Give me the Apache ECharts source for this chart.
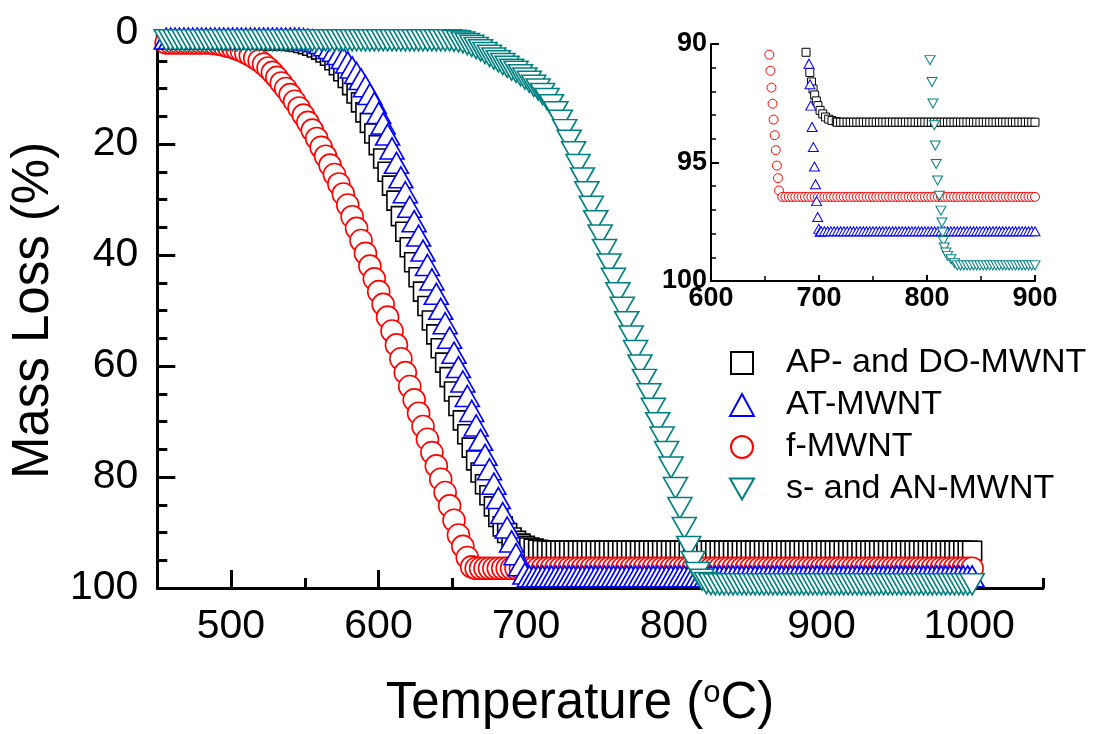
<!DOCTYPE html>
<html><head><meta charset="utf-8">
<script src="https://cdn.jsdelivr.net/npm/echarts@6/dist/echarts.min.js"></script>
<style>html,body{margin:0;padding:0;background:#fff}#c{width:1094px;height:734px}</style>
</head><body><div id="c"></div>
<script>
// ---------- DATA ----------
const temps = [
 456,459,462,465,468,471,474,477,480,483,
 486,489,492,495,498,501,504,507,510,513,
 516,519,522,525,528,531,534,537,540,543,
 546,549,552,555,558,561,564,567,570,573,
 576,579,582,585,588,591,594,597,600,603,
 606,609,612,615,618,621,624,627,630,633,
 636,639,642,645,648,651,654,657,660,663,
 666,669,672,675,678,681,684,687,690,693,
 696,699,702,705,708,711,714,717,720,723,
 726,729,732,735,738,741,744,747,750,753,
 756,759,762,765,768,771,774,777,780,783,
 786,789,792,795,798,801,804,807,810,813,
 816,819,822,825,828,831,834,837,840,843,
 846,849,852,855,858,861,864,867,870,873,
 876,879,882,885,888,891,894,897,900,903,
 906,909,912,915,918,921,924,927,930,933,
 936,939,942,945,948,951,954,957,960,963,
 966,969,972,975,978,981,984,987,990,993,
 996,999,1002
];
// AP- and DO-MWNT
const apDo = [
 1.3,1.3,1.3,1.3,1.3,1.3,1.3,1.3,1.3,1.3,
 1.3,1.3,1.3,1.3,1.3,1.3,1.3,1.3,1.3,1.3,
 1.3,1.3,1.3,1.3,1.3,1.3,1.3,1.4,1.4,1.5,
 1.6,1.8,2.0,2.3,2.6,3.0,3.5,4.1,4.9,5.8,
 6.9,8.1,9.4,10.9,12.5,14.3,16.2,18.1,20.2,22.6,
 25.0,27.5,30.2,33.0,35.8,38.6,41.3,44.0,46.6,49.2,
 51.8,54.3,56.8,59.4,62.0,64.6,67.2,69.8,72.3,74.7,
 77.0,79.2,81.3,83.3,85.3,87.2,88.9,90.1,90.9,91.5,
 92.0,92.4,92.7,92.9,93.1,93.2,93.25,93.3,93.3,93.3,
 93.3,93.3,93.3,93.3,93.3,93.3,93.3,93.3,93.3,93.3,
 93.3,93.3,93.3,93.3,93.3,93.3,93.3,93.3,93.3,93.3,
 93.3,93.3,93.3,93.3,93.3,93.3,93.3,93.3,93.3,93.3,
 93.3,93.3,93.3,93.3,93.3,93.3,93.3,93.3,93.3,93.3,
 93.3,93.3,93.3,93.3,93.3,93.3,93.3,93.3,93.3,93.3,
 93.3,93.3,93.3,93.3,93.3,93.3,93.3,93.3,93.3,93.3,
 93.3,93.3,93.3,93.3,93.3,93.3,93.3,93.3,93.3,93.3,
 93.3,93.3,93.3,93.3,93.3,93.3,93.3,93.3,93.3,93.3,
 93.3,93.3,93.3,93.3,93.3,93.3,93.3,93.3,93.3,93.3,
 93.3,93.3,93.3
];
// AT-MWNT
const at = [
 1.0,1.0,1.0,1.0,1.0,1.0,1.0,1.0,1.0,1.0,
 1.0,1.0,1.0,1.0,1.0,1.0,1.0,1.0,1.0,1.0,
 1.0,1.0,1.0,1.0,1.0,1.0,1.0,1.0,1.0,1.0,
 1.0,1.1,1.2,1.3,1.5,1.8,2.2,2.7,3.2,3.8,
 4.5,5.3,6.2,7.2,8.3,9.6,11.0,12.6,14.4,16.3,
 18.3,20.8,23.4,26.0,28.7,31.3,33.9,36.5,39.2,41.8,
 44.4,47.0,49.7,52.3,54.9,57.6,60.2,62.8,65.4,68.1,
 70.7,73.3,76.0,78.6,81.2,83.8,86.5,89.1,91.6,93.9,
 95.9,97.4,97.9,97.9,97.9,97.9,97.9,97.9,97.9,97.9,
 97.9,97.9,97.9,97.9,97.9,97.9,97.9,97.9,97.9,97.9,
 97.9,97.9,97.9,97.9,97.9,97.9,97.9,97.9,97.9,97.9,
 97.9,97.9,97.9,97.9,97.9,97.9,97.9,97.9,97.9,97.9,
 97.9,97.9,97.9,97.9,97.9,97.9,97.9,97.9,97.9,97.9,
 97.9,97.9,97.9,97.9,97.9,97.9,97.9,97.9,97.9,97.9,
 97.9,97.9,97.9,97.9,97.9,97.9,97.9,97.9,97.9,97.9,
 97.9,97.9,97.9,97.9,97.9,97.9,97.9,97.9,97.9,97.9,
 97.9,97.9,97.9,97.9,97.9,97.9,97.9,97.9,97.9,97.9,
 97.9,97.9,97.9,97.9,97.9,97.9,97.9,97.9,97.9,97.9,
 97.9,97.9,97.9
];
// f-MWNT
const fM = [
 1.8,1.8,1.8,1.8,1.8,1.8,1.8,1.8,1.8,1.8,
 1.8,1.9,2.0,2.2,2.4,2.6,2.9,3.2,3.6,4.0,
 4.5,5.0,5.6,6.3,7.1,8.0,9.0,10.0,11.1,12.3,
 13.5,14.8,16.1,17.5,19.0,20.6,22.2,23.8,25.5,27.2,
 29.0,31.0,33.1,35.2,37.4,39.7,42.0,44.3,46.6,48.9,
 51.2,53.7,56.2,58.7,61.2,63.7,66.1,68.5,70.9,73.2,
 75.6,78.0,80.4,82.8,85.2,87.8,90.45,92.5,94.5,96.2,
 96.45,96.45,96.45,96.45,96.45,96.45,96.45,96.45,96.45,96.45,
 96.45,96.45,96.45,96.45,96.45,96.45,96.45,96.45,96.45,96.45,
 96.45,96.45,96.45,96.45,96.45,96.45,96.45,96.45,96.45,96.45,
 96.45,96.45,96.45,96.45,96.45,96.45,96.45,96.45,96.45,96.45,
 96.45,96.45,96.45,96.45,96.45,96.45,96.45,96.45,96.45,96.45,
 96.45,96.45,96.45,96.45,96.45,96.45,96.45,96.45,96.45,96.45,
 96.45,96.45,96.45,96.45,96.45,96.45,96.45,96.45,96.45,96.45,
 96.45,96.45,96.45,96.45,96.45,96.45,96.45,96.45,96.45,96.45,
 96.45,96.45,96.45,96.45,96.45,96.45,96.45,96.45,96.45,96.45,
 96.45,96.45,96.45,96.45,96.45,96.45,96.45,96.45,96.45,96.45,
 96.45,96.45,96.45,96.45,96.45,96.45,96.45,96.45,96.45,96.45,
 96.45,96.45,96.45
];
// s- and AN-MWNT
const sAn = [
 1.3,1.3,1.3,1.3,1.3,1.3,1.3,1.3,1.3,1.3,
 1.3,1.3,1.3,1.3,1.3,1.3,1.3,1.3,1.3,1.3,
 1.3,1.3,1.3,1.3,1.3,1.3,1.3,1.3,1.3,1.3,
 1.3,1.3,1.3,1.3,1.3,1.3,1.3,1.3,1.3,1.3,
 1.3,1.3,1.3,1.3,1.3,1.3,1.3,1.3,1.3,1.3,
 1.3,1.3,1.3,1.3,1.3,1.3,1.3,1.3,1.3,1.3,
 1.3,1.3,1.3,1.3,1.3,1.4,1.5,1.7,2.0,2.3,
 2.7,3.1,3.6,4.1,4.6,5.1,5.6,6.1,6.6,7.0,
 7.6,8.2,8.8,9.5,10.2,11.0,11.9,13.0,14.3,15.8,
 17.5,19.4,21.5,23.8,26.2,28.7,31.3,33.9,36.5,39.1,
 41.7,44.3,46.9,49.5,52.1,54.7,57.3,59.9,62.5,65.1,
 67.7,70.3,72.9,75.5,78.3,82.0,85.6,89.2,92.6,95.3,
 97.3,98.5,99.1,99.3,99.34,99.34,99.34,99.34,99.34,99.34,
 99.34,99.34,99.34,99.34,99.34,99.34,99.34,99.34,99.34,99.34,
 99.34,99.34,99.34,99.34,99.34,99.34,99.34,99.34,99.34,99.34,
 99.34,99.34,99.34,99.34,99.34,99.34,99.34,99.34,99.34,99.34,
 99.34,99.34,99.34,99.34,99.34,99.34,99.34,99.34,99.34,99.34,
 99.34,99.34,99.34,99.34,99.34,99.34,99.34,99.34,99.34,99.34,
 99.34,99.34,99.34
];
// inset (finer readings of the steep tails)
const insetApDoT = [688,691.5,693,694.5,696,697.5,699,701,703.5,706,709,712,716];
const insetApDoV = [90.35,91.2,91.6,91.9,92.15,92.4,92.6,92.8,92.95,93.08,93.17,93.23,93.28];
const insetAtT = [690.7,691.6,692.4,693.6,694.8,695.8,696.8,697.8,698.8,699.8,701];
const insetAtV = [90.83,91.7,92.6,93.5,94.35,95.17,95.92,96.63,97.3,97.8,97.92];
const insetFT = [654,655,656,657,658,659,660,661,662,663];
const insetFV = [90.45,91.13,91.84,92.52,93.19,93.85,94.48,95.13,95.66,96.18];
const insetSAnT = [802.8,804.6,805.5,806.8,807.7,808.5,809.8,811.4,812.9,813.8,814.5,815.1,816,817.5,819.1,822.2,825.5];
const insetSAnV = [90.68,91.6,92.51,93.43,94.28,95.06,95.76,96.4,97.03,97.53,97.95,98.31,98.59,98.8,98.94,99.08,99.25];

const seriesNames = ['AP- and DO-MWNT','AT-MWNT','f-MWNT','s- and AN-MWNT'];
// x tick positions of the main chart, every 50 °C; labels on the hundreds
const xTickLabels = ['450','500','550','600','650','700','750','800','850','900','950','1000','1050'];

// ---------- BUILD ----------
const FONT = '"Liberation Sans", Arial, Helvetica, sans-serif';
const INV_TRI = 'path://M0,0 L20,0 L10,17.32 Z';
const SQUARE = 'path://M0,0 L10,0 L10,10 L0,10 Z';
function pairs(ts, vs){ return ts.map((t,i)=>[t, vs[i]]); }
function insetData(ft, fv, vs){
  const out = pairs(ft, fv);
  const last = ft[ft.length-1];
  temps.forEach((t,i)=>{ if (t > last && t <= 900) out.push([t, vs[i]]); });
  return out;
}
const specs = [
  {name: seriesNames[0], vals: apDo, ft: insetApDoT, fv: insetApDoV, symbol: 'rect', size: 19, isize: 8, color: '#000000'},
  {name: seriesNames[2], vals: fM, ft: insetFT, fv: insetFV, symbol: 'circle', size: 22, isize: 9, color: '#ff0000'},
  {name: seriesNames[1], vals: at, ft: insetAtT, fv: insetAtV, symbol: 'triangle', size: [24,21], isize: [10,9], color: '#0000ff'},
  {name: seriesNames[3], vals: sAn, ft: insetSAnT, fv: insetSAnV, symbol: INV_TRI, size: [24,21], isize: [10,9], color: '#008080'}
];
const series = [];
specs.forEach(s => {
  series.push({
    type: 'scatter', name: s.name, xAxisIndex: 0, yAxisIndex: 0,
    data: pairs(temps, s.vals), symbol: s.symbol, symbolSize: s.size,
    itemStyle: {color: '#ffffff', borderColor: s.color, borderWidth: 1.6, opacity: 1},
    silent: true, clip: true, emphasis: {disabled: true}
  });
});
specs.forEach(s => {
  series.push({
    type: 'scatter', name: s.name + ' (inset)', xAxisIndex: 1, yAxisIndex: 1,
    data: insetData(s.ft, s.fv, s.vals), symbol: s.symbol, symbolSize: s.isize,
    itemStyle: {color: '#ffffff', borderColor: s.color, borderWidth: 1, opacity: 1},
    silent: true, clip: true, emphasis: {disabled: true}
  });
});

const black = '#000000';
const isHundred = (i) => i % 2 === 1;
const option = {
  animation: false,
  backgroundColor: '#ffffff',
  grid: [
    {left: 157, top: 33, right: 51, bottom: 146},
    {left: 711, top: 44, width: 324, height: 237},
    {left: 157, top: 33, right: 51, bottom: 146}
  ],
  xAxis: [
    // main value axis (data), short ticks every 50
    {type: 'value', gridIndex: 0, min: 450, max: 1050, interval: 50, position: 'bottom',
     axisLine: {onZero: false, lineStyle: {color: black, width: 3}},
     axisTick: {show: true, inside: true, length: 10, lineStyle: {color: black, width: 3}},
     axisLabel: {show: false},
     splitLine: {show: false}
    },
    // inset axis
    {type: 'value', gridIndex: 1, min: 600, max: 900, interval: 100, position: 'bottom',
     axisLine: {onZero: false, lineStyle: {color: black, width: 2}},
     axisTick: {inside: true, length: 6, lineStyle: {color: black, width: 2}},
     minorTick: {show: true, splitNumber: 2, length: 5, lineStyle: {color: black, width: 1.5}},
     axisLabel: {fontSize: 27, fontWeight: 'bold', fontFamily: FONT, color: black, margin: 4},
     splitLine: {show: false}
    },
    // overlay axis for long ticks + labels on the hundreds
    {type: 'category', gridIndex: 2, data: xTickLabels, boundaryGap: false, position: 'bottom',
     axisLine: {show: false, onZero: false},
     axisTick: {show: true, inside: true, length: 18, interval: isHundred, lineStyle: {color: black, width: 3}},
     axisLabel: {interval: isHundred, fontSize: 41, fontFamily: FONT, color: black, margin: 18},
     splitLine: {show: false},
     name: '{a|Temperature (}{s|o}{a|C)}', nameLocation: 'middle', nameGap: 90,
     nameTextStyle: {fontSize: 51, fontFamily: FONT, color: black, padding: [0, 40, 0, 0],
       rich: {a: {fontSize: 51, fontFamily: FONT, color: black}, s: {fontSize: 31, fontFamily: FONT, color: black, verticalAlign: 'top'}}}
    }
  ],
  yAxis: [
    {type: 'value', gridIndex: 0, min: 0, max: 100, interval: 20, inverse: true,
     axisLine: {onZero: false, lineStyle: {color: black, width: 3}},
     axisTick: {inside: true, length: 18, lineStyle: {color: black, width: 3}},
     minorTick: {show: true, splitNumber: 4, length: 10, lineStyle: {color: black, width: 3}},
     axisLabel: {fontSize: 41, fontFamily: FONT, color: black, margin: 19},
     splitLine: {show: false},
     name: 'Mass Loss (%)', nameLocation: 'middle', nameGap: 95,
     nameTextStyle: {fontSize: 51, fontFamily: FONT, color: black}
    },
    {type: 'value', gridIndex: 1, min: 90, max: 100, interval: 5, inverse: true,
     axisLine: {onZero: false, lineStyle: {color: black, width: 2}},
     axisTick: {inside: true, length: 8, lineStyle: {color: black, width: 2}},
     minorTick: {show: true, splitNumber: 5, length: 5, lineStyle: {color: black, width: 1.5}},
     axisLabel: {fontSize: 27, fontWeight: 'bold', fontFamily: FONT, color: black, margin: 4},
     splitLine: {show: false}
    },
    {type: 'value', gridIndex: 2, min: 0, max: 100, show: false}
  ],
  legend: {
    orient: 'vertical', left: 724, top: 341,
    itemWidth: 24, itemHeight: 22, itemGap: 8,
    selectedMode: false,
    data: [
      {name: seriesNames[0], icon: SQUARE},
      {name: seriesNames[1]},
      {name: seriesNames[2]},
      {name: seriesNames[3]}
    ],
    formatter: n => '{g|}' + n,
    textStyle: {fontSize: 34, fontFamily: FONT, color: black, lineHeight: 34,
      rich: {g: {width: 27}}}
  },
  series: series
};
const chart = echarts.init(document.getElementById('c'));
chart.setOption(option);
</script>
</body></html>
